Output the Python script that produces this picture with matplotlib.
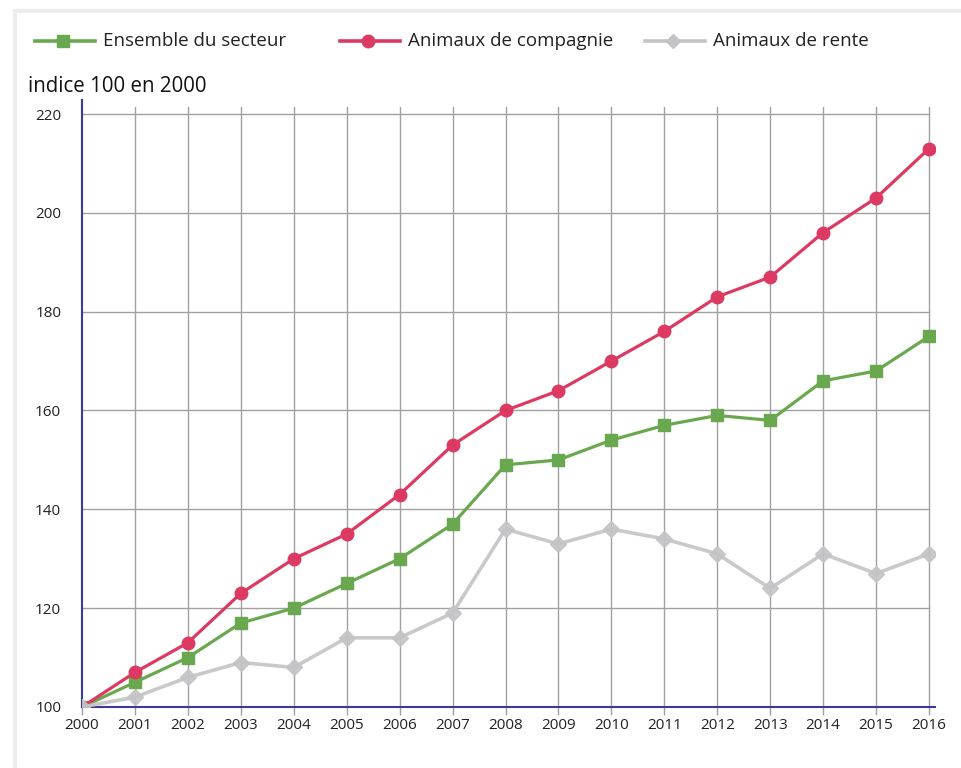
import matplotlib
matplotlib.use("Agg")
import matplotlib.pyplot as plt
from matplotlib.lines import Line2D
from matplotlib.patches import Rectangle

plt.rcParams['font.family'] = ['Open Sans', 'DejaVu Sans']

years = list(range(2000, 2017))
ensemble = [100, 105, 110, 117, 120, 125, 130, 137, 149, 150, 154, 157, 159, 158, 166, 168, 175]
compagnie = [100, 107, 113, 123, 130, 135, 143, 153, 160, 164, 170, 176, 183, 187, 196, 203, 213]
rente = [100, 102, 106, 109, 108, 114, 114, 119, 136, 133, 136, 134, 131, 124, 131, 127, 131]
labels = ["Ensemble du secteur", "Animaux de compagnie", "Animaux de rente"]
yticks = [100, 120, 140, 160, 180, 200, 220]

c_green = "#6aa84f"
c_red = "#dc3a62"
c_gray = "#c4c4c6"
c_axis = "#3a3a9a"
c_grid = "#a0a0a0"

fig = plt.figure(figsize=(9.61, 7.68), dpi=100)
fig.patches.append(Rectangle((15/961, -0.05), 1.2, 1 - 11/768 + 0.05, transform=fig.transFigure,
                             fill=False, edgecolor="#ececec", linewidth=3))

ax = fig.add_axes([82/961, 1 - 707/768, (935 - 82)/961, (707 - 100)/768])
ax.set_xlim(2000, 2016 + (935 - 929) / ((929 - 82) / 16))
ax.set_ylim(100, 100 + (707 - 100) / ((707 - 114) / 120))

# grid
for y in yticks[1:]:
    ax.plot([2000, 2016], [y, y], color=c_grid, lw=1, zorder=1)
for x in years[1:]:
    ax.plot([x, x], [100, 100 + (707 - 107) / ((707 - 114) / 120)], color=c_grid, lw=1, zorder=1)

ax.plot(years, ensemble, color=c_green, lw=2.3, marker="s", ms=8.5, zorder=4)
ax.plot(years, compagnie, color=c_red, lw=2.3, marker="o", ms=9, zorder=5)
ax.plot(years, rente, color=c_gray, lw=2.6, marker="D", ms=8, zorder=6, alpha=0.9)

for s in ["top", "right"]:
    ax.spines[s].set_visible(False)
ax.spines["left"].set_color(c_axis)
ax.spines["bottom"].set_color(c_axis)
ax.spines["left"].set_linewidth(1.5)
ax.spines["bottom"].set_linewidth(1.5)
ax.spines["left"].set_zorder(3)
ax.spines["bottom"].set_zorder(3)

ax.set_xticks(years)
ax.set_xticklabels([str(y) for y in years], fontsize=11, color="#222222")
ax.set_yticks(yticks)
ax.set_yticklabels([str(y) for y in yticks], fontsize=11, color="#222222")
ax.tick_params(axis="x", length=6, width=1, color=c_grid, pad=2)
ax.tick_params(axis="y", length=0, pad=15)

fig.text(28/961, 1 - 87/768, "indice 100 en 2000", fontsize=14.8, color="#111111", va="center", ha="left")

# legend
ly = 1 - 41/768
for x0, col, mk, ms, lab in [(35, c_green, "s", 8, labels[0]), (340, c_red, "o", 9, labels[1]),
                            (645, c_gray, "D", 7.5, labels[2])]:
    fig.add_artist(Line2D([x0/961, (x0 + 60)/961], [ly, ly], transform=fig.transFigure,
                          color=col, lw=2.6))
    fig.add_artist(Line2D([(x0 + 28)/961], [ly], transform=fig.transFigure,
                          color=col, marker=mk, ms=ms, lw=0))
    fig.text((x0 + 68)/961, ly, lab, fontsize=13.5, color="#222222", va="center", ha="left")

fig.savefig("out.png", dpi=100)
